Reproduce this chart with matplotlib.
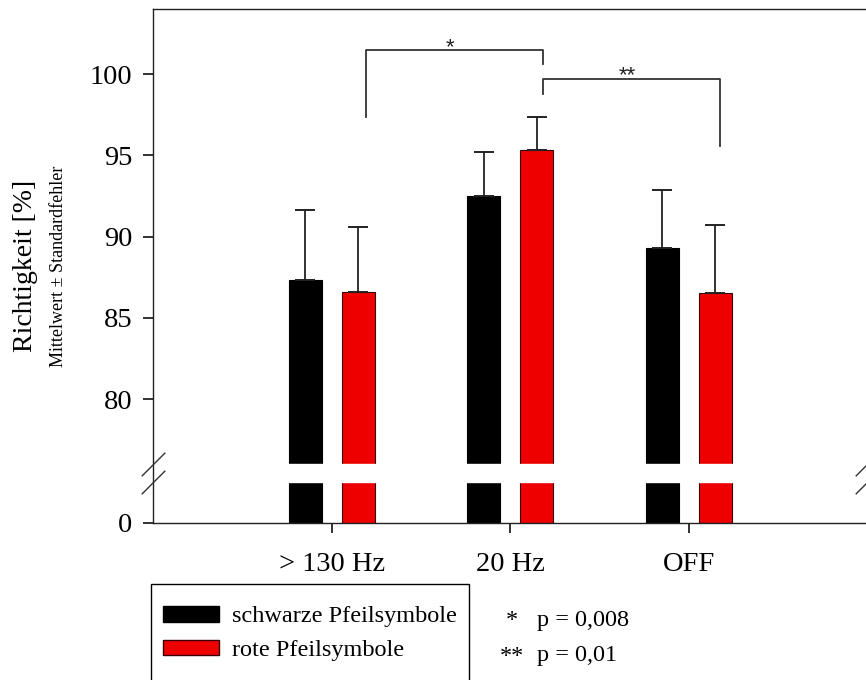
import matplotlib.pyplot as plt
import numpy as np
from matplotlib.patches import Patch, Rectangle

# Daten
bedingungen = ['> 130 Hz', '20 Hz', 'OFF']
schwarz = [87.3, 92.5, 89.3]
schwarz_se = [4.35, 2.7, 3.55]
rot = [86.6, 95.3, 86.5]
rot_se = [4.0, 2.05, 4.2]
legende = ['schwarze Pfeilsymbole', 'rote Pfeilsymbole']
sterne = ['*', '**']
p_werte = ['p = 0,008', 'p = 0,01']
yticks = [0, 80, 85, 90, 95, 100]

plt.rcParams['font.family'] = ['Liberation Serif', 'DejaVu Serif']

# unterbrochene y-Achse: 0..UNTEN | Luecke | OBEN..104
UNTEN, OBEN, LUECKE = 2.5, 76.0, 1.1


def vor(v):
    v = np.asarray(v, dtype=float)
    return np.where(v <= UNTEN, v,
                    np.where(v < OBEN, UNTEN + (v - UNTEN) * LUECKE / (OBEN - UNTEN),
                             v - OBEN + UNTEN + LUECKE))


def zurueck(t):
    t = np.asarray(t, dtype=float)
    return np.where(t <= UNTEN, t,
                    np.where(t < UNTEN + LUECKE, UNTEN + (t - UNTEN) * (OBEN - UNTEN) / LUECKE,
                             t + OBEN - UNTEN - LUECKE))


fig = plt.figure(figsize=(8.66, 6.8), dpi=100)
ax = fig.add_axes([153 / 866, 1 - 522.7 / 680, 714.5 / 866, 513.7 / 680])
ax.set_yscale('function', functions=(vor, zurueck))

x = np.arange(len(bedingungen))
breite = 0.185
off = 0.148
ax.bar(x - off, schwarz, breite, color='black', edgecolor='black', lw=0.8, zorder=1)
ax.bar(x + off, rot, breite, color='#ee0000', edgecolor='#3a0000', lw=0.8, zorder=1)
ax.errorbar(x - off, schwarz, yerr=[np.zeros(3), schwarz_se], fmt='none', ecolor='#222222',
            elinewidth=1.3, capsize=7, capthick=1.4, zorder=2)
ax.errorbar(x + off, rot, yerr=[np.zeros(3), rot_se], fmt='none', ecolor='#222222',
            elinewidth=1.3, capsize=7, capthick=1.4, zorder=2)

# weisse Luecke in den Balken
ax.axhspan(UNTEN, OBEN, color='white', zorder=2.2)

# Bruchzeichen
for xs in [0, 1]:
    ax.plot([xs, xs], [UNTEN, OBEN], transform=ax.get_yaxis_transform(), ls='none',
            marker=[(-1, -1), (1, 1)], markersize=17, mew=1.0, color='#333333',
            clip_on=False, zorder=5)

# Signifikanzklammern
ax.plot([0.19, 0.19, 1.185, 1.185], [97.34, 101.46, 101.46, 100.61], color='#333333', lw=1.3)
ax.plot([1.185, 1.185, 2.175, 2.175], [98.77, 99.69, 99.69, 95.57], color='#333333', lw=1.3)
ax.text(0.661, 101.3, sterne[0], ha='center', va='baseline', fontsize=16,
        family='Liberation Sans', color='#222222')
ax.text(1.653, 99.55, sterne[1], ha='center', va='baseline', fontsize=16,
        family='Liberation Sans', color='#222222')

ax.set_xlim(-1, 3)
ax.set_ylim(0, 104)
ax.set_xticks(x)
ax.set_xticklabels(bedingungen)
ax.set_yticks(yticks)
ax.tick_params(direction='out', length=7, width=1.3, labelsize=20.5, color='#222222')
ax.tick_params(axis='x', pad=14)
ax.tick_params(axis='y', pad=8)
for s in ax.spines.values():
    s.set_linewidth(1.0)
    s.set_color('#222222')

fig.text(26 / 866, 1 - 266 / 680, 'Richtigkeit [%]', rotation=90, ha='center', va='center',
         fontsize=20)
fig.text(59 / 866, 1 - 266 / 680, 'Mittelwert ± Standardfehler', rotation=90, ha='center',
         va='center', fontsize=13)

# Legendenrahmen (unten abgeschnitten)
fig.patches.append(Rectangle((151 / 866, -0.05), (469 - 151) / 866, 0.05 + 1 - 584 / 680,
                             transform=fig.transFigure, fill=False, edgecolor='black', lw=1.0))
griffe = [Patch(facecolor='black', edgecolor='black', label=legende[0]),
          Patch(facecolor='#ee0000', edgecolor='#3a0000', label=legende[1])]
leg = fig.legend(handles=griffe, loc='upper left', bbox_to_anchor=(163 / 866, 1 - 606 / 680),
                 bbox_transform=fig.transFigure, frameon=False, fontsize=17.5,
                 handlelength=2.3, handleheight=0.62, handletextpad=0.55, borderpad=0,
                 labelspacing=0.5, borderaxespad=0)

for i, (st, p) in enumerate(zip(sterne, p_werte)):
    yb = 1 - (626 + 35.5 * i) / 680
    fig.text(512 / 866, yb, st, ha='center', va='baseline', fontsize=17.5)
    fig.text(537 / 866, yb, p, ha='left', va='baseline', fontsize=17.5)

fig.savefig('out.png', dpi=100)
